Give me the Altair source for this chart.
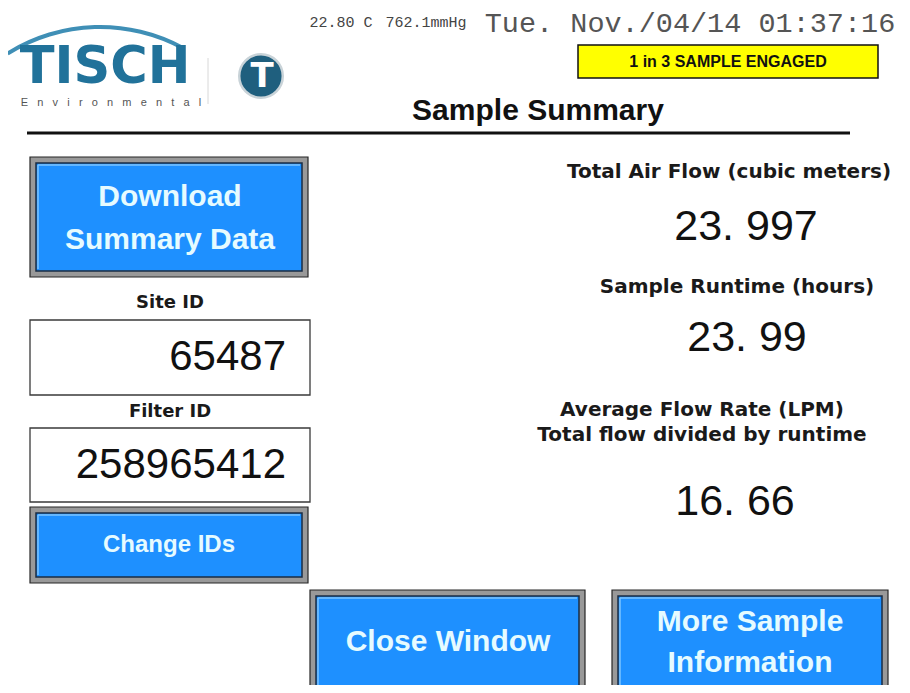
import altair as alt
import pandas as pd
import math

# ---------------- content ----------------
temperature = "22.80 C"
pressure = "762.1mmHg"
timestamp = "Tue. Nov./04/14 01:37:16"
status = "1 in 3 SAMPLE ENGAGED"
title = "Sample Summary"
brand = "TISCH"
brand_sub = "Environmental"
button_labels = ["Download\nSummary Data", "Change IDs", "Close Window", "More Sample\nInformation"]
field_labels = ["Site ID", "Filter ID"]
field_values = ["65487", "258965412"]
metric_labels = ["Total Air Flow (cubic meters)", "Sample Runtime (hours)",
                 "Average Flow Rate (LPM)\nTotal flow divided by runtime"]
metric_values = ["23.997", "23.99", "16.66"]

# ---------------- layout (screen pixels) ----------------
W, H = 894, 677
XS = alt.Scale(domain=[8, 8 + W], nice=False, zero=False)
YS = alt.Scale(domain=[8, 8 + H], nice=False, zero=False, reverse=True)

BLUE = "#1E90FF"
LIGHT = "#e6fbff"

button_boxes = [(30, 157, 308, 277), (30, 507, 308, 583), (310, 590, 585, 694), (612, 590, 888, 694)]
button_text_pos = [(170, 218, 30, 43), (169, 545, 24, 0), (448, 642, 30, 0), (750, 642, 30, 41)]
field_boxes = [(30, 320, 310, 395), (30, 428, 310, 502)]
field_label_pos = [(170, 303), (170, 412)]
field_value_pos = [(286, 357), (286, 465)]
metric_label_pos = [(729, 172), (737, 287), (702, 422)]
metric_value_pos = [(746, 227), (747, 338), (735, 502)]

rect_rows = []
for (x0, y0, x1, y1) in button_boxes:
    rect_rows.append(dict(x=x0, x2=x1, y=y0, y2=y1, fill="#999999", stroke="#262626", sw=1.2))
    rect_rows.append(dict(x=x0 + 6, x2=x1 - 6, y=y0 + 6, y2=y1 - 6, fill=BLUE, stroke="#1a2c44", sw=1.5))
for (x0, y0, x1, y1) in field_boxes:
    rect_rows.append(dict(x=x0, x2=x1, y=y0, y2=y1, fill="#ffffff", stroke="#3a3a3a", sw=1.3))
rect_rows.append(dict(x=578, x2=878, y=45, y2=78, fill="#ffff00", stroke="#111111", sw=1.5))
rects = pd.DataFrame(rect_rows)

rect_layer = alt.Chart(rects).mark_rect().encode(
    x=alt.X("x:Q", scale=XS, axis=None), x2="x2:Q",
    y=alt.Y("y:Q", scale=YS, axis=None), y2="y2:Q",
    fill=alt.Fill("fill:N", scale=None),
    stroke=alt.Stroke("stroke:N", scale=None),
    strokeWidth=alt.StrokeWidth("sw:Q", scale=None),
)

# light highlight along the top/left inner edge of each button
hl_rows = []
for (x0, y0, x1, y1) in button_boxes:
    hl_rows.append(dict(x=x0 + 8, x2=x1 - 8, y=y0 + 8, y2=y0 + 8, c="#7cc4ff", sw=1.5))
    hl_rows.append(dict(x=x0 + 8, x2=x0 + 8, y=y0 + 8, y2=y1 - 8, c="#7cc4ff", sw=1.5))

rule_layer = alt.Chart(pd.DataFrame([
    dict(x=27, x2=850, y=133, y2=133, c="#111111", sw=3.2),
    dict(x=208, x2=208, y=58, y2=104, c="#d8d8d8", sw=1),
] + hl_rows)).mark_rule().encode(
    x=alt.X("x:Q", scale=XS, axis=None), x2="x2:Q",
    y=alt.Y("y:Q", scale=YS, axis=None), y2="y2:Q",
    color=alt.Color("c:N", scale=None),
    strokeWidth=alt.StrokeWidth("sw:Q", scale=None),
)

# logo swoosh
TAU = 2 * math.pi
swoosh = alt.Chart(pd.DataFrame([dict(x=100, y=201)])).mark_arc(
    radius=176, radius2=172, theta=TAU - 0.56, theta2=TAU + 0.5, color="#3f8fb6"
).encode(x=alt.X("x:Q", scale=XS, axis=None), y=alt.Y("y:Q", scale=YS, axis=None))

# logo emblem
emblem = alt.Chart(pd.DataFrame([dict(x=261, y=76)])).mark_point(
    shape="circle", filled=True, size=1900, fill="#1f5f7e", stroke="#c9d3d8", strokeWidth=2.5, opacity=1
).encode(x=alt.X("x:Q", scale=XS, axis=None), y=alt.Y("y:Q", scale=YS, axis=None))


def split_rows(label, cx, cy, fs, lh, col):
    lines = label.split("\n")
    n = len(lines)
    return [dict(x=cx, y=cy + (i - (n - 1) / 2) * lh, t=ln, fs=fs, c=col) for i, ln in enumerate(lines)]


def text_layer(rows, font, weight="normal", align="center"):
    return alt.Chart(pd.DataFrame(rows)).mark_text(
        font=font, fontWeight=weight, align=align, baseline="middle"
    ).encode(
        x=alt.X("x:Q", scale=XS, axis=None),
        y=alt.Y("y:Q", scale=YS, axis=None),
        text="t:N",
        size=alt.Size("fs:Q", scale=None),
        color=alt.Color("c:N", scale=None),
    )


mono_rows = [
    dict(x=341, y=22, t=temperature, fs=15, c="#444444"),
    dict(x=426, y=22, t=pressure, fs=15, c="#444444"),
    dict(x=690, y=23, t=timestamp, fs=28.5, c="#555555"),
]

bold_rows = [
    dict(x=728, y=62, t=status, fs=16, c="#111111"),
    dict(x=538, y=111, t=title, fs=30, c="#111111"),
]
for lab, (cx, cy, fs, lh) in zip(button_labels, button_text_pos):
    bold_rows += split_rows(lab, cx, cy, fs, lh, LIGHT)

label_rows = []
for lab, (cx, cy) in zip(field_labels, field_label_pos):
    label_rows.append(dict(x=cx, y=cy, t=lab, fs=18, c="#1a1a1a"))
for lab, (cx, cy) in zip(metric_labels, metric_label_pos):
    label_rows += split_rows(lab, cx, cy, 20, 25, "#1a1a1a")

id_rows = [dict(x=px, y=py, t=v, fs=42, c="#111111") for v, (px, py) in zip(field_values, field_value_pos)]
value_rows = [dict(x=px, y=py, t=v.replace(".", ". "), fs=43, c="#111111")
              for v, (px, py) in zip(metric_values, metric_value_pos)]

brand_rows = [dict(x=105, y=68, t=brand, fs=51, c="#21729a")]
brand_sub_rows = [dict(x=111, y=103, t="\u00a0\u00a0\u00a0".join(brand_sub), fs=11, c="#555555")]
emblem_text = [dict(x=262, y=77, t="T", fs=34, c="#ffffff")]

chart = alt.layer(
    rect_layer,
    rule_layer,
    swoosh,
    emblem,
    text_layer(mono_rows, "Liberation Mono"),
    text_layer(bold_rows, "Liberation Sans", "bold"),
    text_layer(label_rows, "DejaVu Sans", "bold"),
    text_layer(id_rows, "Liberation Sans", "normal", "right"),
    text_layer(value_rows, "Liberation Sans"),
    text_layer(brand_rows, "DejaVu Sans", "bold"),
    text_layer(brand_sub_rows, "Liberation Sans"),
    text_layer(emblem_text, "DejaVu Sans", "bold"),
).properties(
    width=W, height=H, padding=0, autosize=alt.AutoSizeParams(type="none"), background="#ffffff"
).configure_view(stroke=None)

chart.save("out.html", embed_options={"renderer": "svg", "actions": False})
